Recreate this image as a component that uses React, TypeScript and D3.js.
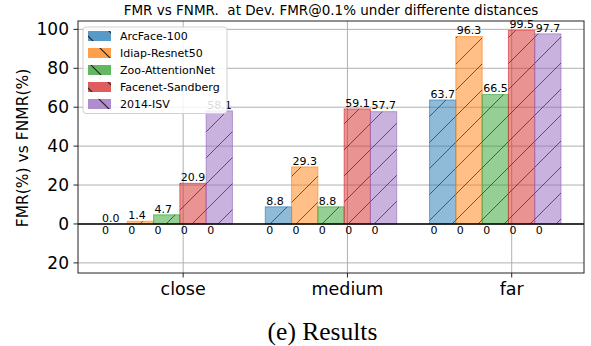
import React from 'react';
import * as d3 from 'd3';

// FMR (top) vs FNMR (bottom, all zero) per distance
const categories = ['close', 'medium', 'far'];
const models = ['ArcFace-100', 'Idiap-Resnet50', 'Zoo-AttentionNet', 'Facenet-Sandberg', '2014-ISV'];
const colors = ['#1f77b4', '#ff7f0e', '#2ca02c', '#d62728', '#9467bd'];

const arcface = [0.0, 8.8, 63.7];
const idiap = [1.4, 29.3, 96.3];
const zoo = [4.7, 8.8, 66.5];
const facenet = [20.9, 59.1, 99.5];
const isv = [58.1, 57.7, 97.7];
const fnmr = [0, 0, 0];

const yTicks = [-20, 0, 20, 40, 60, 80, 100];

const W = 591;
const H = 346;
const margin = { top: 21, right: 7, bottom: 73, left: 78 };
const font = 'DejaVu Sans, sans-serif';

const App = () => {
  const series = [arcface, idiap, zoo, facenet, isv];
  const left = margin.left;
  const right = W - margin.right;
  const top = margin.top;
  const bottom = H - margin.bottom;

  const x = d3.scaleLinear().domain([-0.64, 2.44]).range([left, right]);
  const y = d3.scaleLinear().domain([-25.2, 104.3]).range([bottom, top]);
  const bw = 0.16;
  const barX = (i: number, k: number) => x(i + (k - 3) * bw - 0.02);
  const bwPx = x(bw) - x(0);

  return (
    <svg width={W} height={H} style={{ position: 'absolute', left: 0, top: 0, background: '#fff' }}>
      <defs>
        <pattern id="hatch" patternUnits="userSpaceOnUse" width={26} height={26}>
          <path d="M0,26 L26,0 M-13,13 L13,-13 M13,39 L39,13" stroke="#333" strokeOpacity={0.75} strokeWidth={1} />
        </pattern>
        <pattern id="hatchLeg" patternUnits="userSpaceOnUse" width={26} height={26}>
          <path d="M0,0 L26,26 M-13,13 L13,39 M13,-13 L39,13" stroke="#222" strokeWidth={1.2} />
        </pattern>
        <clipPath id="axclip">
          <rect x={left} y={top} width={right - left} height={bottom - top} />
        </clipPath>
      </defs>

      {/* title */}
      <text x={(left + right) / 2} y={15} textAnchor="middle" fontFamily={font} fontSize={13.5} style={{ whiteSpace: 'pre' }}>
        {'FMR vs FNMR.  at Dev. FMR@0.1% under differente distances'}
      </text>

      {/* grid */}
      <g stroke="#b0b0b0" strokeWidth={1}>
        {yTicks.map(t => (
          <line key={'gy' + t} x1={left} x2={right} y1={y(t)} y2={y(t)} />
        ))}
        {categories.map((c, i) => (
          <line key={'gx' + c} x1={x(i)} x2={x(i)} y1={top} y2={bottom} />
        ))}
      </g>

      {/* bars */}
      <g clipPath="url(#axclip)">
        {series.map((vals, k) =>
          vals.map((v, i) => (
            <g key={`b${k}-${i}`}>
              <rect x={barX(i, k)} y={y(v)} width={bwPx} height={y(0) - y(v)}
                fill={colors[k]} fillOpacity={0.5} stroke={colors[k]} strokeOpacity={0.6} strokeWidth={1} />
              <rect x={barX(i, k)} y={y(v)} width={bwPx} height={y(0) - y(v)} fill="url(#hatch)" />
              <rect x={barX(i, k)} y={y(0)} width={bwPx} height={y(-fnmr[i]) - y(0)}
                fill={colors[k]} fillOpacity={0.5} />
            </g>
          ))
        )}
      </g>

      {/* zero line */}
      <line x1={left} x2={right} y1={y(0)} y2={y(0)} stroke="#000" strokeWidth={1.6} />

      {/* value labels */}
      <g fontFamily={font} fontSize={11} fill="#000">
        {series.map((vals, k) =>
          vals.map((v, i) => (
            <g key={`l${k}-${i}`}>
              <text x={barX(i, k) + 1} y={y(v) - 2.3}>{v.toFixed(1)}</text>
              <text x={barX(i, k) + 1} y={y(-fnmr[i]) + 9.6}>{String(fnmr[i])}</text>
            </g>
          ))
        )}
      </g>

      {/* frame */}
      <rect x={left} y={top} width={right - left} height={bottom - top} fill="none" stroke="#222" strokeWidth={1} />

      {/* y axis */}
      <g fontFamily={font} fontSize={17} fill="#000">
        {yTicks.map(t => (
          <g key={'yt' + t}>
            <line x1={left - 4.5} x2={left} y1={y(t)} y2={y(t)} stroke="#222" />
            <text x={left - 9} y={y(t)} textAnchor="end" dominantBaseline="central">{Math.abs(t)}</text>
          </g>
        ))}
      </g>
      <text transform={`translate(23,${(top + bottom) / 2 + 1}) rotate(-90)`} textAnchor="middle" dominantBaseline="central"
        fontFamily={font} fontSize={15.5}>FMR(%) vs FNMR(%)</text>

      {/* x axis */}
      <g fontFamily={font} fontSize={17.5} fill="#000">
        {categories.map((c, i) => (
          <g key={'xt' + c}>
            <line x1={x(i)} x2={x(i)} y1={bottom} y2={bottom + 4.5} stroke="#222" />
            <text x={x(i)} y={295} textAnchor="middle">{c}</text>
          </g>
        ))}
      </g>

      {/* legend */}
      <g>
        <rect x={83} y={27} width={144} height={86.5} rx={3} fill="#fff" fillOpacity={0.85} stroke="#d0d0d0" />
        {models.map((m, k) => {
          const cy = 36 + k * 17;
          return (
            <g key={'lg' + m}>
              <rect x={88} y={cy - 5} width={23} height={10} fill={colors[k]} fillOpacity={0.75} />
              <rect x={88} y={cy - 5} width={23} height={10} fill="url(#hatchLeg)" />
              <text x={120} y={cy} dominantBaseline="central" fontFamily={font} fontSize={11}>{m}</text>
            </g>
          );
        })}
      </g>

      {/* caption */}
      <text x={322.5} y={339.5} textAnchor="middle" fontFamily="Liberation Serif, serif" fontSize={25.5}>(e) Results</text>
    </svg>
  );
};

export default App;
